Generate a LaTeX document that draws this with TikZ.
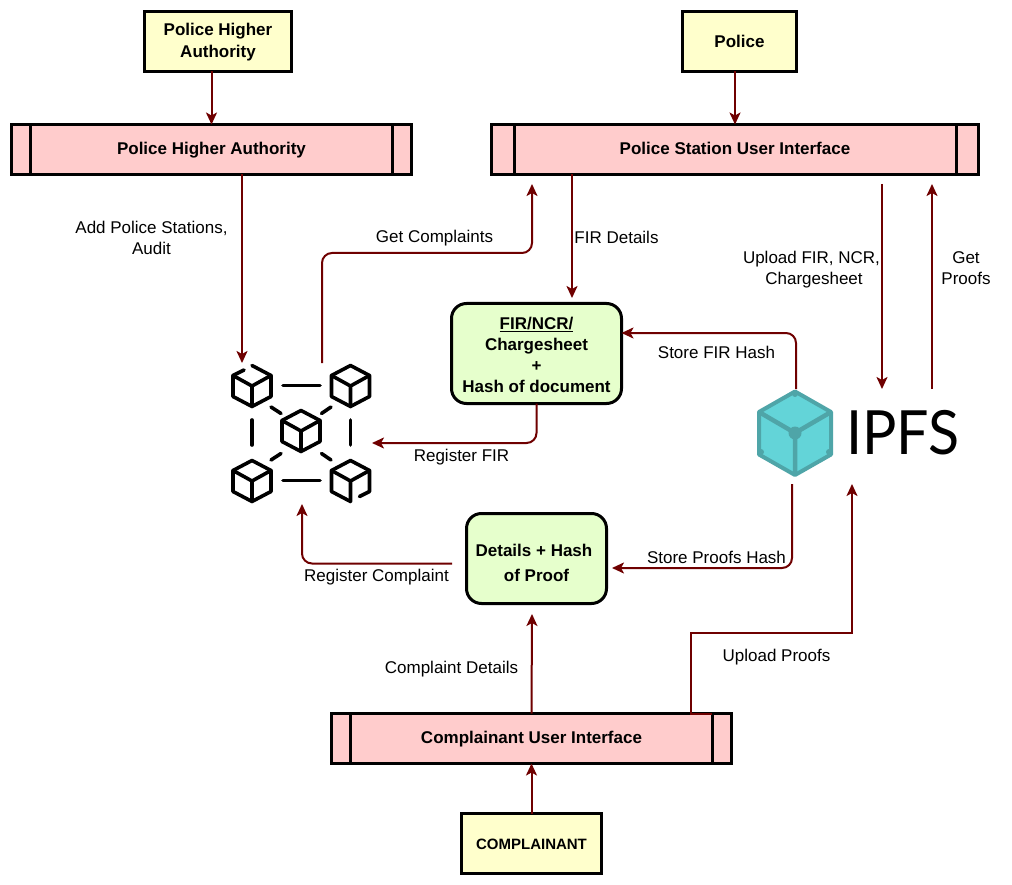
\documentclass[tikz,border=0pt]{standalone}
\usepackage{fontspec}
\setmainfont{Liberation Sans}
\newfontfamily\logofont{Lato}
\usetikzlibrary{arrows.meta,positioning}
\definecolor{Flow}{HTML}{6F0000}
\definecolor{UserYellow}{HTML}{FFFFCC}
\definecolor{UiPink}{HTML}{FFCCCC}
\definecolor{DataGreen}{HTML}{E6FFCC}
\definecolor{IpfsFill}{HTML}{63D4D8}
\definecolor{IpfsEdge}{HTML}{4FA5A8}
\tikzset{
  actorbox/.style={draw,line width=3pt,fill=UserYellow,outer sep=0pt,align=center,font=\fontsize{17}{22}\selectfont\bfseries},
  uibox/.style={draw,line width=3pt,fill=UiPink,outer sep=0pt,minimum height=50pt,text height=13pt,text depth=3pt,font=\fontsize{17}{22}\selectfont\bfseries},
  databox/.style={draw,line width=3pt,fill=DataGreen,rounded corners=15pt,outer sep=0pt,align=center,font=\fontsize{17}{21}\selectfont\bfseries},
  flow/.style={->,line width=2pt,Flow},
  roundflow/.style={flow,rounded corners=10pt},
  flowlabel/.style={align=center,inner sep=0pt,font=\fontsize{17}{21}\selectfont},
  blockline/.style={line width=3.6pt,line cap=round,line join=round},
  chaincube/.pic={
    \draw[blockline] (-19,-10.5) -- (0,0) -- (19,-10.5) (0,0) -- (0,20.5);
    \draw[blockline] (0,-20.5) -- (19,-10.5) -- (19,10.5) -- (0,20.5) -- (-19,10.5) -- (-19,-10.5) -- cycle;
  },
  brokencubetop/.pic={
    \draw[blockline] (-19,-10.5) -- (0,0) -- (19,-10.5) (0,0) -- (0,20.5);
    \draw[blockline] (0,-20.5) -- (19,-10.5) -- (19,10.5) -- (0,20.5) -- (-19,10.5) -- (-19,-10.5) -- (-8,-16);
  },
  brokencubebottom/.pic={
    \draw[blockline] (-19,-10.5) -- (0,0) -- (19,-10.5) (0,0) -- (0,20.5);
    \draw[blockline] (9,15.5) -- (19,10.5) -- (19,-10.5) -- (0,-20.5) -- (-19,-10.5) -- (-19,10.5) -- (0,20.5);
  }
}
\begin{document}
\begin{tikzpicture}[x=1pt,y=-1pt,>={Stealth[length=12pt,width=11pt,inset=3pt]}]
  \useasboundingbox (0,0) rectangle (1012,885);
  \node[actorbox,minimum width=147pt,minimum height=60pt] (hqtop) at (218,41.5) {\rule{0pt}{14pt}Police Higher\\Authority};
  \node[actorbox,minimum width=114pt,minimum height=60pt] (policetop) at (739.5,41.5) {Police};
  \node[uibox,minimum width=400pt] (hqui) at (211.5,149.5) {Police Higher Authority};
  \node[uibox,minimum width=487pt] (stationui) at (735,149.5) {Police Station User Interface};
  \node[databox,minimum width=170pt,minimum height=100pt] (fir) at (536.5,353.5) {\rule{0pt}{15pt}\underline{FIR/NCR/}\\Chargesheet\\+\\Hash of document};
  \node[databox,minimum width=140pt,minimum height=90pt,font=\fontsize{17}{25}\selectfont\bfseries] (details) at (536.5,558.5) {\rule{0pt}{22pt}Details + Hash\hspace*{5pt}\\of Proof};
  \node[uibox,minimum width=400pt] (complainantui) at (531.5,738.5) {Complainant User Interface};
  \node[actorbox,minimum width=140pt,minimum height=60pt,below=50pt of complainantui,font=\fontsize{15}{20}\selectfont\bfseries] (complainant) {\rule{0pt}{13pt}COMPLAINANT};
  \foreach \uiname/\uiinset in {hqui/19,stationui/22.5,complainantui/19}{
    \draw[line width=3pt] ([xshift=\uiinset pt]\uiname.north west) -- ([xshift=\uiinset pt]\uiname.south west);
    \draw[line width=3pt] ([xshift=-\uiinset pt]\uiname.north east) -- ([xshift=-\uiinset pt]\uiname.south east);
  }

  \node[minimum width=140pt,minimum height=141pt,inner sep=0pt,outer sep=0pt] (chain) at (302,433.5) {};
  \path (252,386) pic {brokencubetop};
  \path (350.5,386) pic {chaincube};
  \path (301,431) pic {chaincube};
  \path (252,481) pic {chaincube};
  \path (350.5,481) pic {brokencubebottom};
  \draw[blockline] (283,385.5) -- (320,385.5);
  \draw[blockline] (283,480.5) -- (320,480.5);
  \draw[blockline] (252,420) -- (252,445);
  \draw[blockline] (350.5,420) -- (350.5,445);
  \draw[blockline] (271,407) -- (281,413.5);
  \draw[blockline] (331,407) -- (321.5,413.5);
  \draw[blockline] (271,460) -- (281,453.5);
  \draw[blockline] (331,460) -- (321.5,453.5);

  \node[minimum width=204pt,minimum height=95pt,inner sep=0pt,outer sep=0pt] (ipfs) at (858,436.5) {};
  \draw[line width=4pt,IpfsEdge,fill=IpfsFill,line join=round] (795,391.5) -- (831,412) -- (831,454.5) -- (795,475) -- (759,454.5) -- (759,412) -- cycle;
  \draw[line width=4.5pt,IpfsEdge] (759,412) -- (795,433) -- (831,412) (795,433) -- (795,475);
  \fill[IpfsEdge] (795,433) circle (6.5pt);
  \foreach \hubx/\huby in {795/394,761/452,829/452}{
    \fill[IpfsEdge] (\hubx,\huby) circle (3pt);
  }
  \node[inner sep=0pt,font=\fontsize{61}{61}\selectfont\logofont] (ipfstext) at (903,433) {\scalebox{.94}[1]{IPFS}};

  \coordinate (getin) at (532,184);
  \coordinate (getbend) at (532,253);
  \coordinate (firin) at (572,298);
  \coordinate (uploadfrom) at (882,184);
  \coordinate (proofsin) at (932,184);
  \coordinate (detailsright) at (612,568);
  \coordinate (registerfrom) at (452,563.5);
  \coordinate (detailsin) at (532,614);
  \coordinate (proofbend) at (691,633);

  \draw[flow] (hqtop.south -| hqui.north) -- (hqui.north);
  \draw[flow] (policetop.south -| stationui.north) -- (stationui.north);
  \draw[flow] ([xshift=30.5pt]hqui.south) -- ([xshift=-60pt]chain.north);
  \draw[roundflow] ([xshift=20pt]chain.north) |- (getbend) -- (getin);
  \draw[flow] ([xshift=-163pt]stationui.south) -- (firin);
  \draw[flow] (uploadfrom) -- ([xshift=24pt]ipfs.north);
  \draw[flow] ([xshift=74pt]ipfs.north) -- (proofsin);
  \draw[roundflow] ([xshift=-62pt]ipfs.north) |- ([yshift=20.5pt]fir.east);
  \draw[roundflow] (fir.south) |- ([yshift=-9.5pt]chain.east);
  \draw[roundflow] ([xshift=-66pt]ipfs.south) |- (detailsright);
  \draw[roundflow] (registerfrom) -| (chain.south);
  \draw[flow] (complainantui.north) -- (detailsin);
  \draw[flow] ([xshift=180.5pt]complainantui.north) -| (proofbend) -| ([xshift=-6pt]ipfs.south);
  \draw[flow] (complainant.north) -- (complainantui.south);

  \node[flowlabel] (addlabel) at (151.5,238) {Add Police Stations,\\Audit};
  \node[flowlabel] (getlabel) at (434.5,238.5) {Get Complaints};
  \node[flowlabel] (firlabel) at (616.5,237) {FIR Details};
  \node[flowlabel] (uploadlabel) at (811.5,270) {Upload FIR, NCR,\\\hspace*{5pt}Chargesheet};
  \node[flowlabel] (prooflabel) at (966,268) {Get\\Proofs};
  \node[flowlabel] (hashlabel) at (716.5,352) {Store FIR Hash};
  \node[flowlabel] (registerlabel) at (461.5,457) {Register FIR};
  \node[flowlabel] (storelabel) at (716.5,557) {Store Proofs Hash};
  \node[flowlabel] (complaintlabel) at (376.5,577) {Register Complaint};
  \node[flowlabel] (detailslabel) at (451.5,669) {Complaint Details};
  \node[flowlabel] (uploadproofs) at (776.5,657) {Upload Proofs};
\end{tikzpicture}
\end{document}
